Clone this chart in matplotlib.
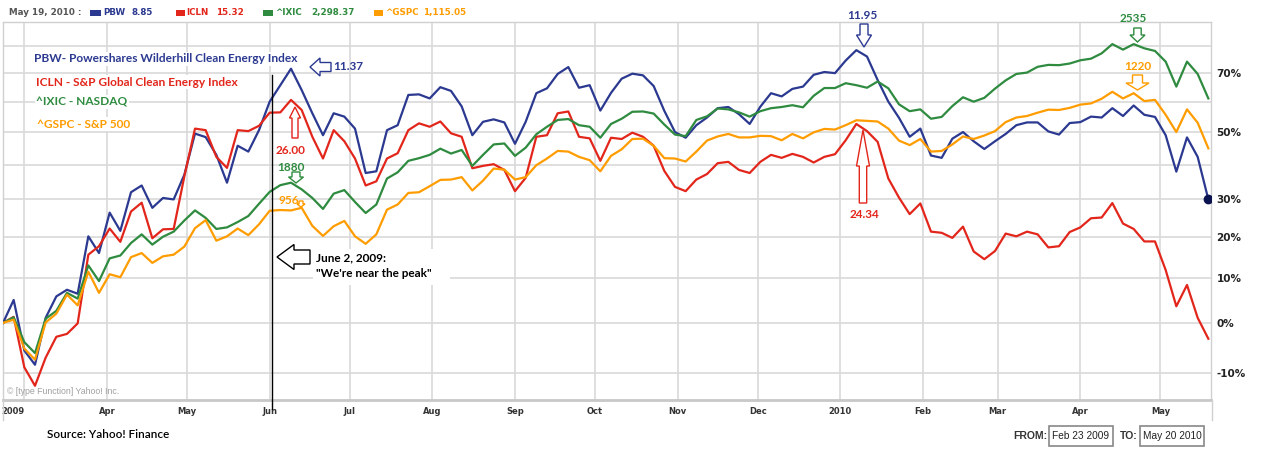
import matplotlib
matplotlib.use('Agg')
import matplotlib.pyplot as plt
import numpy as np
import pandas as pd
from matplotlib.patches import Polygon, Rectangle
from matplotlib.ticker import NullLocator

# ---------------- data (percent change since start) ----------------
start_date = '2009-02-21'
pbw_pct = [
    0.0, 5.0, -5.7, -8.5, 1.1, 5.8, 7.3, 6.4, 20.2, 16.0,
    26.4, 21.6, 32.0, 33.9, 27.7, 30.4, 30.0, 37.0, 49.5, 48.4,
    42.9, 34.7, 45.7, 43.9, 50.6, 60.0, 65.7, 71.6, 64.0, 56.1,
    49.0, 56.1, 55.0, 51.1, 37.5, 38.0, 50.6, 52.2, 62.3, 62.5,
    61.1, 65.0, 63.7, 58.4, 49.0, 53.3, 54.1, 53.1, 46.3, 53.3,
    62.9, 64.6, 69.7, 72.2, 64.8, 65.7, 57.0, 63.0, 68.0, 69.8,
    69.2, 65.4, 56.9, 50.0, 48.2, 52.2, 54.7, 57.8, 58.2, 55.8,
    52.6, 58.3, 62.9, 61.8, 64.4, 65.2, 69.4, 70.4, 70.0, 74.6,
    78.5, 76.1, 67.5, 60.0, 54.6, 48.5, 51.1, 42.7, 42.0, 47.9,
    50.0, 47.1, 44.7, 47.1, 49.4, 52.2, 53.1, 53.1, 50.2, 49.2,
    52.9, 53.2, 55.0, 54.7, 57.8, 55.2, 58.7, 55.6, 54.9, 49.0,
    37.9, 48.3, 42.3, 30.0]
icln_pct = [
    0.0, 1.3, -9.0, -12.5, -7.1, -2.9, -2.3, -0.1, 15.6, 17.7,
    22.2, 18.8, 26.7, 29.1, 19.7, 22.0, 22.1, 36.5, 51.1, 50.6,
    42.3, 39.0, 50.6, 50.3, 52.0, 56.3, 56.4, 60.6, 57.2, 48.5,
    41.8, 50.6, 47.1, 41.8, 33.9, 35.1, 41.8, 43.4, 50.6, 52.8,
    51.7, 53.4, 49.6, 48.5, 38.9, 39.6, 40.1, 38.4, 32.3, 36.1,
    48.5, 49.0, 56.1, 56.7, 48.5, 48.0, 41.1, 48.2, 47.8, 49.8,
    48.5, 45.7, 38.1, 33.5, 32.3, 35.6, 37.2, 40.4, 40.8, 38.4,
    37.5, 40.8, 42.9, 42.0, 43.2, 42.3, 40.6, 42.3, 43.1, 47.4,
    52.6, 50.3, 46.9, 35.9, 30.5, 26.0, 28.9, 21.4, 21.1, 19.8,
    22.7, 16.4, 14.5, 16.5, 20.9, 20.2, 21.4, 20.7, 17.4, 17.7,
    21.3, 22.5, 24.9, 25.1, 29.0, 23.5, 22.1, 18.9, 18.9, 11.9,
    3.6, 8.4, 1.1, -3.3]
ixic_pct = [
    0.0, 1.2, -4.0, -6.2, 0.9, 2.6, 6.6, 5.3, 13.0, 9.3,
    14.7, 15.4, 18.5, 20.7, 18.1, 20.1, 21.4, 24.3, 27.0, 25.0,
    22.1, 22.5, 23.9, 25.5, 28.8, 32.1, 34.0, 34.7, 32.8, 30.4,
    27.4, 31.6, 32.6, 29.3, 26.3, 28.6, 35.9, 37.7, 41.1, 41.9,
    42.9, 44.8, 43.3, 44.4, 39.6, 42.9, 46.1, 46.4, 42.6, 45.1,
    49.3, 51.7, 53.9, 54.2, 52.2, 51.7, 48.2, 52.6, 54.3, 56.6,
    56.7, 56.0, 52.4, 49.2, 48.7, 53.9, 55.1, 57.7, 57.4, 56.4,
    55.0, 56.8, 57.8, 58.2, 58.8, 58.1, 62.0, 64.7, 64.7, 66.4,
    65.7, 64.8, 67.0, 64.6, 59.1, 56.8, 57.4, 54.3, 54.9, 58.5,
    61.5, 60.0, 61.3, 64.5, 67.4, 69.7, 70.2, 72.3, 73.0, 72.9,
    73.5, 74.7, 75.3, 77.3, 80.8, 78.7, 80.8, 79.2, 78.2, 74.2,
    65.2, 74.2, 69.7, 61.1]
gspc_pct = [
    0.0, 0.7, -5.3, -7.5, 0.1, 2.0, 6.2, 3.8, 11.5, 6.6,
    10.9, 10.2, 15.0, 16.0, 13.6, 15.2, 15.6, 17.6, 22.3, 24.4,
    19.1, 20.2, 22.2, 20.5, 23.3, 26.9, 27.1, 27.0, 27.7, 22.9,
    20.3, 22.8, 24.2, 20.2, 18.3, 20.7, 27.2, 28.6, 31.8, 32.0,
    33.7, 35.5, 35.6, 36.3, 32.5, 35.3, 38.8, 38.5, 35.6, 36.3,
    39.8, 41.8, 44.1, 43.9, 42.3, 41.3, 38.0, 42.6, 44.6, 47.8,
    47.9, 45.7, 41.9, 41.8, 40.9, 43.9, 47.3, 48.6, 49.4, 48.3,
    48.3, 48.8, 48.7, 47.4, 49.4, 48.0, 49.9, 51.0, 50.8, 52.2,
    53.8, 53.6, 53.4, 51.1, 47.3, 45.9, 47.8, 43.9, 44.1, 46.1,
    48.6, 47.8, 48.9, 50.3, 53.2, 54.7, 55.2, 56.3, 57.3, 57.2,
    57.9, 59.0, 59.4, 61.0, 63.4, 61.1, 62.9, 60.2, 60.6, 55.6,
    50.0, 57.4, 53.0, 44.9]

grid_pcts = [-10, 0, 10, 20, 30, 40, 50, 60, 70, 80]
labeled_pcts = [-10, 0, 10, 20, 30, 50, 70]
month_ticks = pd.date_range('2009-03-01', '2010-05-01', freq='MS')
month_labels = ['2009', 'Apr', 'May', 'Jun', 'Jul', 'Aug', 'Sep', 'Oct',
                'Nov', 'Dec', '2010', 'Feb', 'Mar', 'Apr', 'May']
marker_date = '2009-06-02'

C_BLUE = '#2b3990'
C_RED = '#e2261b'
C_GREEN = '#2e8b3f'
C_ORANGE = '#ff9c00'

# ---------------- figure ----------------
W, H = 1271, 461
fig = plt.figure(figsize=(W / 100, H / 100), dpi=100)
ax = fig.add_axes([3 / W, 1 - 400 / H, (1211 - 3) / W, (400 - 22) / H])

dates = pd.date_range(start_date, periods=len(pbw_pct), freq='4D')

def ratio(p):
    return 1 + np.asarray(p) / 100.0

ax.set_yscale('log')
for vals, col in [(pbw_pct, C_BLUE), (icln_pct, C_RED),
                  (ixic_pct, C_GREEN), (gspc_pct, C_ORANGE)]:
    ax.plot(dates, ratio(vals), color=col, lw=1.6, zorder=3,
            solid_joinstyle='round')
ax.plot(dates[-1], ratio(pbw_pct)[-1], 'o', color='#0b1250', ms=6, zorder=5)

ax.set_ylim(0.849, 1.895)
ax.set_xlim(pd.Timestamp('2009-02-21'), pd.Timestamp('2010-05-20'))

ax.set_yticks(ratio(grid_pcts),
              labels=[f'{p}%' if p in labeled_pcts else '' for p in grid_pcts])
ax.yaxis.set_minor_locator(NullLocator())
ax.yaxis.tick_right()
ax.tick_params(axis='y', length=0, pad=4, labelsize=7.5, labelcolor='#222222')
for lab in ax.get_yticklabels():
    lab.set_fontweight('bold')
    lab.set_family('DejaVu Sans')

ax.set_xticks(month_ticks, labels=month_labels)
ax.tick_params(axis='x', length=0, pad=5, labelsize=6, labelcolor='#333333')
for lab in ax.get_xticklabels():
    lab.set_fontweight('bold')
ax.get_xticklabels()[0].set_ha('right')

ax.grid(True, color='#d9d9d9', lw=1.2, zorder=0)
ax.set_axisbelow(True)
for s in ['top', 'left', 'right']:
    ax.spines[s].set_color('#d0d0d0')
    ax.spines[s].set_linewidth(1.0)
ax.spines['bottom'].set_color('#c8c8c8')
ax.spines['bottom'].set_linewidth(2.0)

ax.axvline(pd.Timestamp(marker_date), ymin=-0.025, ymax=(400 - 75) / 378,
           color='black', lw=1.0, zorder=4, clip_on=False)

# ---------------- overlay in pixel coordinates ----------------
ov = fig.add_axes([0, 0, 1, 1], zorder=10)
ov.set_xlim(0, W)
ov.set_ylim(H, 0)
ov.axis('off')
ov.patch.set_alpha(0)

def block_arrow(tip, direction, length, head_len, head_hw, shaft_hw, color, lw=1.0):
    tx, ty = tip
    dx, dy = direction
    px, py = -dy, dx
    bx, by = tx - dx * head_len, ty - dy * head_len
    sx, sy = tx - dx * length, ty - dy * length
    pts = [(tx, ty),
           (bx + px * head_hw, by + py * head_hw),
           (bx + px * shaft_hw, by + py * shaft_hw),
           (sx + px * shaft_hw, sy + py * shaft_hw),
           (sx - px * shaft_hw, sy - py * shaft_hw),
           (bx - px * shaft_hw, by - py * shaft_hw),
           (bx - px * head_hw, by - py * head_hw)]
    ov.add_patch(Polygon(pts, closed=True, facecolor='white', edgecolor=color,
                         lw=lw, zorder=12))

LEFT, UP, DOWN = (-1, 0), (0, -1), (0, 1)
FONT = 'Lato'

# legend-like labels
legend_items = [("PBW- Powershares Wilderhill Clean Energy Index", C_BLUE, 34, 59),
                ("ICLN - S&P Global Clean Energy Index", C_RED, 36, 82),
                ("^IXIC - NASDAQ", C_GREEN, 36, 102),
                ("^GSPC - S&P 500", C_ORANGE, 37, 124)]
for txt, col, x, y in legend_items:
    ov.text(x, y, txt, color=col, fontsize=8.6, fontweight='bold', family=FONT,
            ha='left', va='center', zorder=13,
            bbox=dict(facecolor='white', edgecolor='none', pad=1.0))

# peak annotations
block_arrow((310, 67), LEFT, 21, 10, 9, 4.5, C_BLUE)
ov.text(333, 66, '11.37', color=C_BLUE, fontsize=8.5, fontweight='bold',
        family=FONT, ha='left', va='center', zorder=13)

block_arrow((295, 107), UP, 31, 11, 5.5, 3, C_RED)
ov.text(291, 150, '26.00', color=C_RED, fontsize=8.5, fontweight='bold',
        family=FONT, ha='center', va='center', zorder=13)

ov.text(291, 167, '1880', color=C_GREEN, fontsize=8.5, fontweight='bold',
        family=FONT, ha='center', va='center', zorder=13)
block_arrow((296, 183), DOWN, 11, 6, 7.5, 4, C_GREEN)

ov.text(289, 200, '956', color=C_ORANGE, fontsize=8.5, fontweight='bold',
        family=FONT, ha='center', va='center', zorder=13)
block_arrow((301, 207), DOWN, 6, 3, 4, 2, C_ORANGE)

ov.add_patch(Rectangle((313, 249), 137, 36, facecolor='white', edgecolor='none',
                       zorder=11))
block_arrow((277, 257), LEFT, 33, 17, 12.5, 7, 'black')
ov.text(316, 258, 'June 2, 2009:', color='black', fontsize=8.5,
        fontweight='bold', family=FONT, ha='left', va='center', zorder=13)
ov.text(316, 273, '"We\'re near the peak"', color='black', fontsize=8.5,
        fontweight='bold', family=FONT, ha='left', va='center', zorder=13)

ov.text(862, 15.5, '11.95', color=C_BLUE, fontsize=8.5, fontweight='bold',
        family=FONT, ha='center', va='center', zorder=13)
block_arrow((864, 47), DOWN, 23, 12, 7.5, 4, C_BLUE)

block_arrow((863, 130), UP, 73, 36, 6.5, 3.7, C_RED)
ov.text(864, 214, '24.34', color=C_RED, fontsize=8.5, fontweight='bold',
        family=FONT, ha='center', va='center', zorder=13)

ov.text(1133, 18, '2535', color=C_GREEN, fontsize=8.5, fontweight='bold',
        family=FONT, ha='center', va='center', zorder=13)
block_arrow((1137.5, 42), DOWN, 14, 7, 7.5, 3.7, C_GREEN)

ov.text(1138, 66, '1220', color=C_ORANGE, fontsize=8.5, fontweight='bold',
        family=FONT, ha='center', va='center', zorder=13)
block_arrow((1137.5, 90), DOWN, 15, 7, 11.5, 5, C_ORANGE)

# header strip
HF = 'DejaVu Sans'
ov.text(9, 12.7, 'May 19, 2010 :', color='#555555', fontsize=6.3,
        fontweight='bold', family=HF, ha='left', va='center')
header = [(C_BLUE, 90, 11, 'PBW', 103, '8.85', 132),
          (C_RED, 176, 9, 'ICLN', 186, '15.32', 216),
          (C_GREEN, 263, 10, '^IXIC', 275, '2,298.37', 311),
          (C_ORANGE, 374, 9, '^GSPC', 385, '1,115.05', 423)]
for col, sx, sw, name, nx, val, vx in header:
    ov.add_patch(Rectangle((sx, 10), sw, 6, facecolor=col, edgecolor='none'))
    ov.text(nx, 12.7, name, color=col, fontsize=6.3, fontweight='bold',
            family=HF, ha='left', va='center')
    ov.text(vx, 12.7, val, color=col, fontsize=6.3, fontweight='bold',
            family=HF, ha='left', va='center')

# frame extensions below the axis
ov.plot([2.5, 2.5], [400, 420], color='#d0d0d0', lw=1.0)
ov.plot([1211.5, 1211.5], [400, 420], color='#d0d0d0', lw=1.0)

ov.text(7, 391, '\u00a9 [type Function] Yahoo! Inc.', color='#a0a0a0',
        fontsize=6.3, family='Liberation Sans', ha='left', va='center')

ov.text(47, 434, 'Source: Yahoo! Finance', color='black', fontsize=8.5,
        family=FONT, fontweight='semibold', ha='left', va='center')

NF = 'Liberation Sans'
ov.text(1013, 436, 'FROM:', color='#333333', fontsize=7.5, fontweight='bold',
        family=NF, ha='left', va='center')
ov.add_patch(Rectangle((1049, 426), 64, 20, facecolor='white',
                       edgecolor='#888888', lw=1.2))
ov.text(1081, 436, 'Feb 23 2009', color='#222222', fontsize=7.3, family=NF,
        ha='center', va='center')
ov.text(1120, 436, 'TO:', color='#333333', fontsize=7.5, fontweight='bold',
        family=NF, ha='left', va='center')
ov.add_patch(Rectangle((1140, 426), 64, 20, facecolor='white',
                       edgecolor='#888888', lw=1.2))
ov.text(1172, 436, 'May 20 2010', color='#222222', fontsize=7.3, family=NF,
        ha='center', va='center')

fig.savefig('out.png', dpi=100)
